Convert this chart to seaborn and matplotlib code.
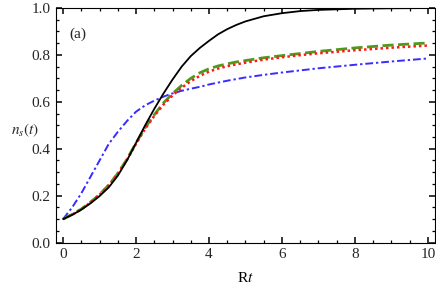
import pandas as pd
import matplotlib.pyplot as plt
import seaborn as sns
from matplotlib.ticker import MultipleLocator, FormatStrFormatter

# -----------------------------
# data
# -----------------------------
t = [0, 0.25, 0.5, 0.75, 1, 1.25, 1.5, 1.75, 2, 2.25, 2.5, 2.75, 3,
     3.25, 3.5, 3.75, 4, 4.25, 4.5, 4.75, 5, 5.5, 6, 6.5, 7, 8, 9, 10]

n_black = [0.100, 0.118, 0.140, 0.167, 0.198, 0.235, 0.285, 0.350, 0.425,
           0.500, 0.570, 0.635, 0.695, 0.750, 0.795, 0.830, 0.860, 0.888,
           0.910, 0.928, 0.943, 0.965, 0.978, 0.987, 0.992, 0.997, 0.999,
           1.000]

n_green = [0.100, 0.120, 0.143, 0.172, 0.205, 0.245, 0.295, 0.355, 0.425,
           0.490, 0.545, 0.595, 0.635, 0.670, 0.700, 0.724, 0.741, 0.753,
           0.762, 0.770, 0.776, 0.788, 0.797, 0.806, 0.815, 0.830, 0.842,
           0.851]

n_red = [0.100, 0.119, 0.142, 0.171, 0.204, 0.244, 0.293, 0.352, 0.421,
         0.485, 0.540, 0.588, 0.627, 0.660, 0.688, 0.711, 0.729, 0.742,
         0.752, 0.760, 0.767, 0.780, 0.790, 0.799, 0.807, 0.820, 0.831,
         0.840]

n_blue = [0.100, 0.150, 0.210, 0.280, 0.350, 0.420, 0.472, 0.518, 0.558,
          0.585, 0.605, 0.622, 0.636, 0.647, 0.656, 0.664, 0.674, 0.682,
          0.690, 0.697, 0.704, 0.715, 0.725, 0.734, 0.743, 0.758, 0.772,
          0.785]

df = pd.DataFrame({"t": t, "black": n_black, "green": n_green,
                   "red": n_red, "blue": n_blue})

# -----------------------------
# style
# -----------------------------
sns.set_style("white")
plt.rcParams["font.family"] = ["Liberation Serif", "DejaVu Serif"]
plt.rcParams["mathtext.fontset"] = "stix"
plt.rcParams["xtick.labelsize"] = 11
plt.rcParams["ytick.labelsize"] = 11
plt.rcParams["xtick.major.pad"] = 4
plt.rcParams["ytick.major.pad"] = 4

fig = plt.figure(figsize=(4.36, 2.87), dpi=100)
ax = fig.add_axes([0.128, 0.155, 0.870, 0.817])

sns.lineplot(data=df, x="t", y="blue", ax=ax, color="#3a2bff", lw=1.4,
             linestyle=(0, (4, 1.5, 1.2, 1.5)))
sns.lineplot(data=df, x="t", y="green", ax=ax, color="#4f9a1c", lw=2.0,
             linestyle=(0, (4, 1.6)))
sns.lineplot(data=df, x="t", y="red", ax=ax, color="#ff1a1a", lw=1.8,
             linestyle=(0, (1, 1.2)))
sns.lineplot(data=df, x="t", y="black", ax=ax, color="black", lw=1.3)

ax.set_xlim(-0.2, 10.2)
ax.set_ylim(0, 1.0)
ax.xaxis.set_major_locator(MultipleLocator(2))
ax.xaxis.set_minor_locator(MultipleLocator(0.5))
ax.yaxis.set_major_locator(MultipleLocator(0.2))
ax.yaxis.set_minor_locator(MultipleLocator(0.05))
ax.yaxis.set_major_formatter(FormatStrFormatter("%.1f"))

ax.set_xlabel("R$t$", fontsize=11, labelpad=7, color="black")
ax.set_ylabel("")
ax.text(-0.082, 0.48, "$n_s(t)$", transform=ax.transAxes, fontsize=11,
        ha="center", va="center")
ax.text(0.035, 0.89, "(a)", transform=ax.transAxes, fontsize=11,
        va="center", ha="left")

# ticks last, drawn above everything
ax.set_axisbelow(False)
ax.tick_params(which="major", direction="in", bottom=True, left=True,
               top=True, right=True, length=4, width=1.1, color="black")
ax.tick_params(which="minor", direction="in", bottom=True, left=True,
               top=True, right=True, length=2.5, width=0.9, color="black")
ax.xaxis.set_zorder(5)
ax.yaxis.set_zorder(5)
for s in ax.spines.values():
    s.set_color("black")

plt.savefig("out.png", dpi=100)
